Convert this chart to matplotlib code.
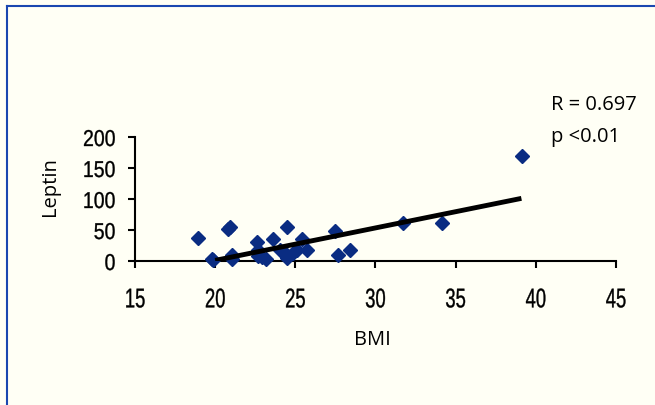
import matplotlib.pyplot as plt
from matplotlib.lines import Line2D
from matplotlib.patheffects import AbstractPathEffect
from matplotlib.transforms import Affine2D

# BMI vs Leptin
bmi = [18.95, 19.8, 19.85, 20.8, 20.9, 21.05, 21.05, 22.63, 22.7, 22.7, 22.9, 23.17,
       23.63, 24.05, 24.36, 24.5, 24.5, 24.88, 25.08, 25.4, 25.7,
       27.45, 27.68, 28.4, 31.7, 34.13, 39.12]
leptin = [37, 4, 1, 51, 55, 10, 3, 31, 18, 8, 6, 3,
          35, 18, 13, 55, 5, 13, 18, 36, 17,
          48, 10, 18, 61, 61, 169]

# regression line endpoints as drawn
trend_x = [20.0, 39.1]
trend_y = [1.0, 101.0]

x_ticks = [15, 20, 25, 30, 35, 40, 45]
y_ticks = [0, 50, 100, 150, 200]


class Squeeze(AbstractPathEffect):
    # narrow the glyphs horizontally (no narrow font installed)
    def __init__(self, sx, anchor, stroke=0.25):
        super().__init__()
        self.sx = sx
        self.anchor = anchor
        self.stroke = stroke

    def draw_path(self, renderer, gc, tpath, affine, rgbFace=None):
        ext = tpath.get_extents()
        cx = ext.x1 if self.anchor == 'right' else (ext.x0 + ext.x1) / 2
        t = Affine2D().translate(-cx, 0).scale(self.sx, 1).translate(cx, 0) + affine
        gc0 = renderer.new_gc()
        gc0.copy_properties(gc)
        gc0.set_linewidth(self.stroke)
        gc0.set_foreground('black')
        renderer.draw_path(gc0, tpath, t, rgbFace)
        gc0.restore()


bg = '#fffff5'
fig = plt.figure(figsize=(6.55, 4.05), dpi=100, facecolor=bg)
ax = fig.add_axes([135 / 655, 1 - 261 / 405, 481 / 655, 124 / 405])
ax.set_facecolor(bg)

ax.plot(bmi, leptin, 'D', color='#0a2c82', markersize=7.5, clip_on=False, zorder=3)
ax.plot(trend_x, trend_y, '-', color='black', linewidth=3.5, solid_capstyle='butt', zorder=4)

ax.set_xlim(15, 45)
ax.set_ylim(0, 200)
ax.set_xticks(x_ticks)
ax.set_yticks(y_ticks)

for s in ['top', 'right']:
    ax.spines[s].set_visible(False)
for s in ['left', 'bottom']:
    ax.spines[s].set_linewidth(1.5)
ax.tick_params(direction='out', length=5, width=1.5)
ax.tick_params(axis='x', pad=14)
ax.tick_params(axis='y', pad=9)

for lab in ax.get_xticklabels():
    lab.set_family('Liberation Sans')
    lab.set_fontsize(19.5)
    lab.set_path_effects([Squeeze(0.68, 'center')])
for lab in ax.get_yticklabels():
    lab.set_family('Liberation Sans')
    lab.set_fontsize(16.5)
    lab.set_path_effects([Squeeze(0.85, 'right')])

fig.text(372 / 655, 1 - 340 / 405, 'BMI', family='Open Sans', fontsize=14.5, ha='center', va='center')
fig.text(50 / 655, 1 - 187 / 405, 'Leptin', family='Open Sans', fontsize=14.5, rotation=90,
         ha='center', va='center')

fig.text(551 / 655, 1 - 110 / 405, 'R = 0.697', family='Open Sans', fontsize=14.5, va='baseline')
fig.text(551 / 655, 1 - 142 / 405, 'p <0.01', family='Open Sans', fontsize=14.5, va='baseline')

# blue frame on left and top
fig.add_artist(Line2D([7 / 655, 7 / 655], [0, 1 - 6 / 405], transform=fig.transFigure,
                      color='#1a47b0', linewidth=1.5))
fig.add_artist(Line2D([7 / 655, 1], [1 - 6 / 405, 1 - 6 / 405], transform=fig.transFigure,
                      color='#1a47b0', linewidth=1.5))

fig.savefig('out.png', dpi=100, facecolor=bg)
